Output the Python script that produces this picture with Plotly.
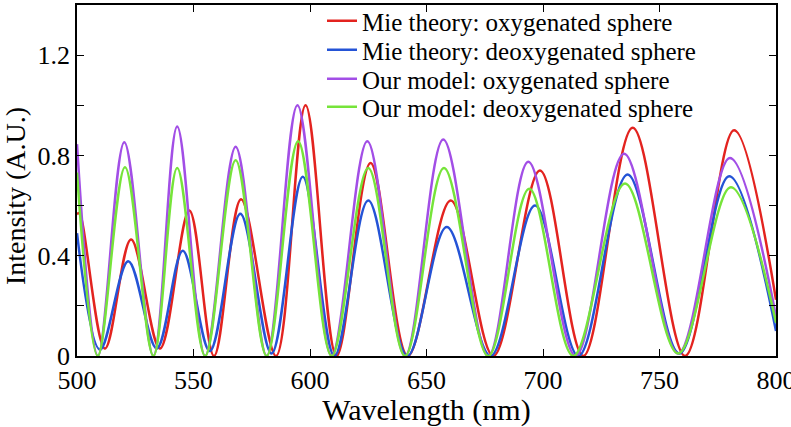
import plotly.graph_objects as go

# ---- data (peaks / troughs / ends) ----
mie_oxy_x = [500, 501, 512, 523.2, 535.6, 548.2, 558.8, 570.4, 585.4, 598.1, 611.4, 626, 642, 660.4, 678.7, 698.7, 717.3, 738.5, 761, 782, 800]
mie_oxy_y = [0.565, 0.57, 0.03, 0.465, 0.03, 0.58, 0.0, 0.625, 0.0, 1.0, 0.0, 0.77, 0.0, 0.62, 0.0, 0.74, 0.0, 0.91, 0.0, 0.90, 0.224]

mie_deoxy_x = [500, 509.9, 522, 534.2, 545.4, 557, 570.1, 583.5, 596.9, 610.5, 625, 641.8, 658.7, 677.5, 696.6, 715.2, 736.3, 758.5, 779.9, 800]
mie_deoxy_y = [0.49, 0.025, 0.378, 0.03, 0.42, 0.02, 0.567, 0.01, 0.715, 0.0, 0.62, 0.0, 0.515, 0.0, 0.60, 0.0, 0.724, 0.01, 0.717, 0.10]

model_oxy_x = [500, 509, 520.3, 532.8, 543, 555, 568.1, 581.4, 594.6, 609.3, 624.6, 640.8, 657.2, 676.5, 693.7, 714, 734.8, 758, 780.2, 800]
model_oxy_y = [0.845, 0.0, 0.853, 0.0, 0.915, 0.0, 0.835, 0.0, 1.0, 0.0, 0.857, 0.0, 0.864, 0.0, 0.775, 0.0, 0.807, 0.01, 0.79, 0.157]

model_deoxy_x = [500, 508.9, 520.6, 532.8, 543, 555, 568.1, 581.4, 594.9, 609.3, 625, 640.8, 657.5, 676.5, 694.1, 713, 735.2, 758, 780.6, 800]
model_deoxy_y = [0.732, 0.0, 0.753, 0.0, 0.75, 0.0, 0.781, 0.0, 0.857, 0.0, 0.75, 0.0, 0.75, 0.0, 0.667, 0.0, 0.688, 0.01, 0.673, 0.133]

series_names = ["Mie theory: oxygenated sphere", "Mie theory: deoxygenated sphere",
                "Our model: oxygenated sphere", "Our model: deoxygenated sphere"]
series_colors = ["#e3231f", "#2453d6", "#a24ee6", "#76e43a"]

x_ticks = [500, 550, 600, 650, 700, 750, 800]
x_tick_labels = ["500", "550", "600", "650", "700", "750", "800"]
y_ticks = [0, 0.2, 0.4, 0.6, 0.8, 1.0, 1.2]
y_tick_labels = ["0", "", "0.4", "", "0.8", "", "1.2"]

FONT = "Liberation Serif, Times New Roman, serif"

fig = go.Figure()
series = [(mie_oxy_x, mie_oxy_y), (mie_deoxy_x, mie_deoxy_y),
          (model_oxy_x, model_oxy_y), (model_deoxy_x, model_deoxy_y)]
legend_ids = ["legend", "legend2", "legend3", "legend4"]
for (xs, ys), name, color, lg in zip(series, series_names, series_colors, legend_ids):
    fig.add_trace(go.Scatter(x=xs, y=ys, mode="lines", name=name,
                             line=dict(color=color, width=2.5, shape="spline", smoothing=1.0),
                             legend=lg))

L, R, T, B = 77, 15, 5, 71
W, H = 791, 427
pw, ph = W - L - R, H - T - B
leg_left = 322
row_centers = [21, 50, 79, 107]
leg_common = dict(xanchor="left", yanchor="middle", bgcolor="rgba(0,0,0,0)",
                  font=dict(family=FONT, size=25, color="black"), borderwidth=0)
legends = {}
for lg, yc in zip(legend_ids, row_centers):
    legends[lg] = dict(x=(leg_left - L) / pw, y=(H - B - yc) / ph, **leg_common)

fig.update_layout(
    template="none",
    width=W, height=H,
    margin=dict(l=L, r=R, t=T, b=B, pad=0, autoexpand=False),
    paper_bgcolor="white", plot_bgcolor="white",
    font=dict(family=FONT, color="black"),
    showlegend=True,
    **legends,
    xaxis=dict(range=[500, 800], tickvals=x_ticks, ticktext=x_tick_labels,
               ticks="inside", ticklen=7, tickwidth=1.3, tickcolor="black",
               showline=True, linecolor="black", linewidth=1.5, mirror="ticks",
               showgrid=False, zeroline=False, automargin=False,
               ticklabeloverflow="allow",
               tickfont=dict(family=FONT, size=26, color="black"),
               title=dict(text="Wavelength (nm)", font=dict(family=FONT, size=30, color="black"), standoff=3)),
    yaxis=dict(range=[0, 1.4], tickvals=y_ticks, ticktext=y_tick_labels,
               ticks="inside", ticklen=7, tickwidth=1.3, tickcolor="black",
               showline=True, linecolor="black", linewidth=1.5, mirror="ticks",
               showgrid=False, zeroline=False, automargin=False,
               tickfont=dict(family=FONT, size=26, color="black")),
    annotations=[dict(text="Intensity (A.U.)", textangle=-90, xref="paper", yref="paper",
                      x=(15 - L) / pw, y=(H - B - 196) / ph, xanchor="center", yanchor="middle",
                      showarrow=False, font=dict(family=FONT, size=28, color="black"))],
)

fig.write_html("out.html", config={"displayModeBar": False},
               post_script="document.body.style.margin='0px';document.body.style.padding='0px';")
